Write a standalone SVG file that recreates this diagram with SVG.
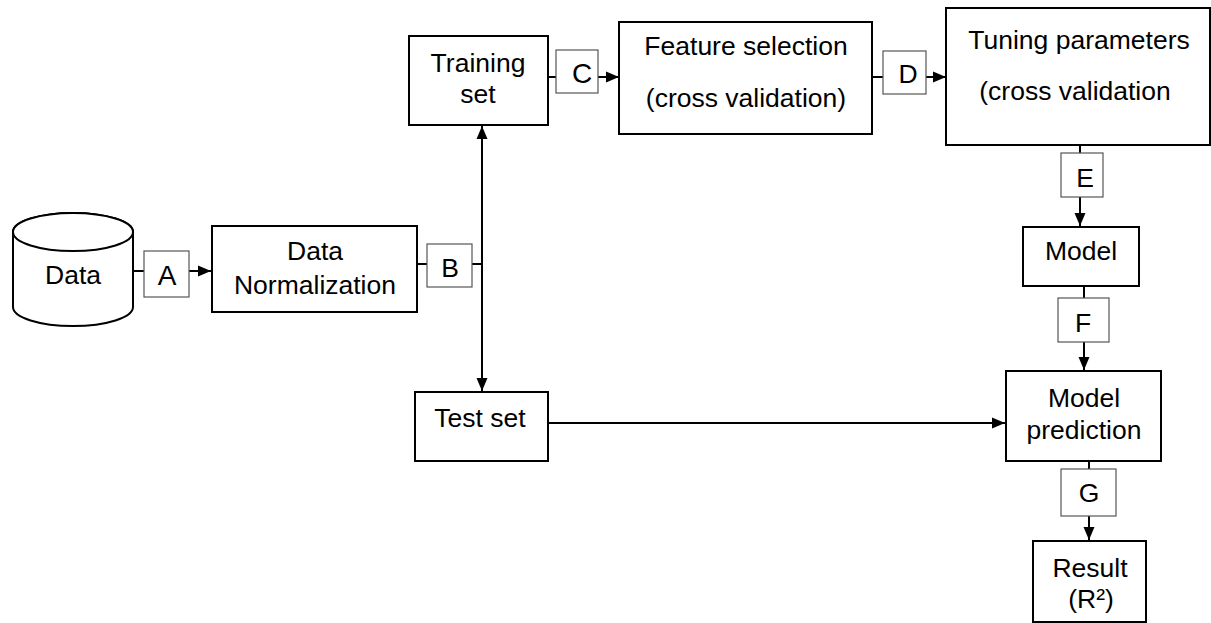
<svg xmlns="http://www.w3.org/2000/svg" width="1211" height="623" viewBox="0 0 1211 623">
<style>
.box{fill:#fff;stroke:#000;stroke-width:2}
.lbl{fill:#fff;stroke:#555;stroke-width:1.2}
.t{font-family:"Liberation Sans",Arial,sans-serif;font-size:26.5px;fill:#000;text-anchor:middle}
.c{fill:none;stroke:#000;stroke-width:2}
</style>
<defs>
<marker id="ah" markerUnits="userSpaceOnUse" markerWidth="13" markerHeight="13" viewBox="0 0 13 13" refX="13" refY="6.5" orient="auto">
<path d="M0,1 L13,6.5 L0,12 Z" fill="#000"/>
</marker>
</defs>
<rect width="1211" height="623" fill="#fff"/>
<g id="connectors">
<line class="c" x1="133" y1="271" x2="144" y2="271"/>
<line class="c" x1="189" y1="271" x2="211" y2="271" marker-end="url(#ah)"/>
<line class="c" x1="417" y1="264" x2="427" y2="264"/>
<line class="c" x1="472" y1="264" x2="482" y2="264"/>
<line class="c" x1="482" y1="264" x2="482" y2="126" marker-end="url(#ah)"/>
<line class="c" x1="482" y1="264" x2="482" y2="391" marker-end="url(#ah)"/>
<line class="c" x1="548" y1="77" x2="556" y2="77"/>
<line class="c" x1="598" y1="77" x2="619" y2="77" marker-end="url(#ah)"/>
<line class="c" x1="872" y1="77" x2="883" y2="77"/>
<line class="c" x1="926" y1="77" x2="946" y2="77" marker-end="url(#ah)"/>
<line class="c" x1="1080" y1="145" x2="1080" y2="153"/>
<line class="c" x1="1080" y1="197" x2="1080" y2="226" marker-end="url(#ah)"/>
<line class="c" x1="1084" y1="286" x2="1084" y2="298"/>
<line class="c" x1="1084" y1="342" x2="1084" y2="370" marker-end="url(#ah)"/>
<line class="c" x1="1089" y1="461" x2="1089" y2="469"/>
<line class="c" x1="1089" y1="516" x2="1089" y2="540" marker-end="url(#ah)"/>
<line class="c" x1="548" y1="423" x2="1005" y2="423" marker-end="url(#ah)"/>
</g>
<g id="data">
<path class="box" d="M13,232 L13,307 A60,19 0 0 0 133,307 L133,232 A60,19 0 0 0 13,232 Z"/>
<ellipse class="box" cx="73" cy="232" rx="60" ry="19" fill="none"/>
<text class="t" x="73" y="284">Data</text>
</g>
<g id="labelA"><rect class="lbl" x="144" y="251" width="45" height="46"/><text class="t" x="167" y="285" style="font-size:28px">A</text></g>
<g id="normalization">
<rect class="box" x="212" y="226" width="205" height="86"/>
<text class="t" x="315" y="260">Data</text>
<text class="t" x="315" y="294">Normalization</text>
</g>
<g id="labelB"><rect class="lbl" x="427" y="244" width="45" height="43"/><text class="t" x="450" y="277">B</text></g>
<g id="training">
<rect class="box" x="409" y="36" width="139" height="89"/>
<text class="t" x="478" y="72">Training</text>
<text class="t" x="478" y="103">set</text>
</g>
<g id="labelC"><rect class="lbl" x="556" y="50" width="42" height="43"/><text class="t" x="582" y="83" style="font-size:28px">C</text></g>
<g id="feature">
<rect class="box" x="619" y="22" width="253" height="112"/>
<text class="t" x="746" y="55">Feature selection</text>
<text class="t" x="746" y="107">(cross validation)</text>
</g>
<g id="labelD"><rect class="lbl" x="883" y="51" width="43" height="43"/><text class="t" x="908" y="83">D</text></g>
<g id="tuning">
<rect class="box" x="946" y="8" width="264" height="137"/>
<text class="t" x="1079" y="49">Tuning parameters</text>
<text class="t" x="1075" y="100">(cross validation</text>
</g>
<g id="labelE"><rect class="lbl" x="1061" y="153" width="42" height="44"/><text class="t" x="1085" y="187">E</text></g>
<g id="model">
<rect class="box" x="1023" y="227" width="116" height="59"/>
<text class="t" x="1081" y="260">Model</text>
</g>
<g id="labelF"><rect class="lbl" x="1058" y="298" width="51" height="44"/><text class="t" x="1083" y="332">F</text></g>
<g id="prediction">
<rect class="box" x="1006" y="371" width="155" height="90"/>
<text class="t" x="1084" y="407">Model</text>
<text class="t" x="1084" y="439">prediction</text>
</g>
<g id="labelG"><rect class="lbl" x="1061" y="469" width="55" height="47"/><text class="t" x="1089" y="502">G</text></g>
<g id="result">
<rect class="box" x="1033" y="541" width="113" height="81"/>
<text class="t" x="1090" y="577">Result</text>
<text class="t" x="1091" y="608">(R²)</text>
</g>
<g id="testset">
<rect class="box" x="415" y="392" width="133" height="69"/>
<text class="t" x="480" y="427">Test set</text>
</g>
</svg>
